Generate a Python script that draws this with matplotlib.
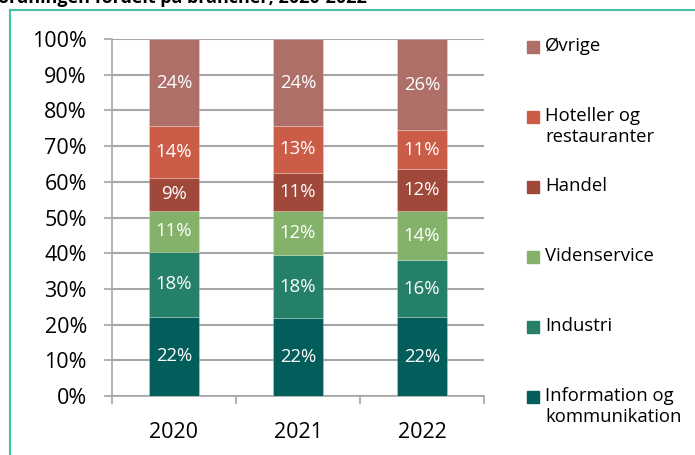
import matplotlib.pyplot as plt
import matplotlib.patches as mpatches
from matplotlib.lines import Line2D

plt.rcParams['font.family'] = ['Open Sans', 'DejaVu Sans']

years = ["2020", "2021", "2022"]
# stacked from bottom to top
sectors = ["Information og\nkommunikation", "Industri", "Videnservice",
           "Handel", "Hoteller og\nrestauranter", "Øvrige"]
colors = ["#035e5b", "#25806a", "#85b26a", "#a0483a", "#cb5c48", "#ae6f68"]
shares = [
    [22.2, 21.8, 22.0],   # Information og kommunikation
    [18.2, 17.7, 16.1],   # Industri
    [11.4, 12.4, 13.6],   # Videnservice
    [9.4, 10.7, 11.8],    # Handel
    [14.3, 13.0, 10.9],   # Hoteller og restauranter
    [24.5, 24.4, 25.6],   # Øvrige
]

fig = plt.figure(figsize=(6.95, 4.55), dpi=100)
ax = fig.add_axes([112/695, 1-396/455, 372/695, 357/455])

x = range(len(years))
bottom = [0, 0, 0]
for vals, col in zip(shares, colors):
    bars = ax.bar(x, vals, width=0.4, bottom=bottom, color=col,
                  edgecolor=(1, 1, 1, 0.25), linewidth=0.6, zorder=3)
    ax.bar_label(bars, labels=[f"{v:.0f}%" for v in vals], label_type='center',
                 color='white', fontsize=13.3)
    bottom = [b + v for b, v in zip(bottom, vals)]

ax.set_xlim(-0.5, 2.5)
ax.set_ylim(0, 100)
ax.set_yticks(range(0, 101, 10))
ax.set_yticklabels([f"{t}%" for t in range(0, 101, 10)])
ax.set_xticks(list(x))
ax.set_xticklabels(years)
ax.set_xticks([-0.5, 0.5, 1.5, 2.5], minor=True)

grid_c = "#a6a6a6"
ax.grid(axis='y', color=grid_c, linewidth=1.5, zorder=0)
for s in ['top', 'right']:
    ax.spines[s].set_visible(False)
for s in ['left', 'bottom']:
    ax.spines[s].set_color(grid_c)
    ax.spines[s].set_linewidth(1.2)
ax.tick_params(axis='y', length=6, width=1.2, color=grid_c, pad=12,
               labelsize=15.5, labelcolor='black')
ax.tick_params(axis='x', which='major', length=0, pad=19,
               labelsize=15.5, labelcolor='black')
ax.tick_params(axis='x', which='minor', length=6, width=1.2, color=grid_c)

# legend, top-aligned slots like the original
for i, (lab, col) in enumerate(zip(sectors[::-1], colors[::-1])):
    top = 40 + 70 * i
    fig.add_artist(mpatches.Rectangle((527/695, 1-(top+13)/455), 12/695, 12/455,
                                      transform=fig.transFigure, color=col))
    fig.text(545/695, 1-(top-3)/455, lab, va='top', ha='left', fontsize=13.3,
             linespacing=1.25)

# frame and cut-off title (the reference shows only its lower half)
frame_c = "#45c2a4"
fig.add_artist(Line2D([10/695, 1], [1-10/455, 1-10/455], color=frame_c, lw=1.5,
                      transform=fig.transFigure))
fig.add_artist(Line2D([10/695, 10/695], [0, 1-10/455], color=frame_c, lw=1.5,
                      transform=fig.transFigure))
fig.text(-2/695, 1-3/455, "ordningen fordelt på brancher, 2020-2022",
         fontsize=13, fontweight='bold', va='baseline', ha='left')

fig.savefig("out.png", dpi=100)
